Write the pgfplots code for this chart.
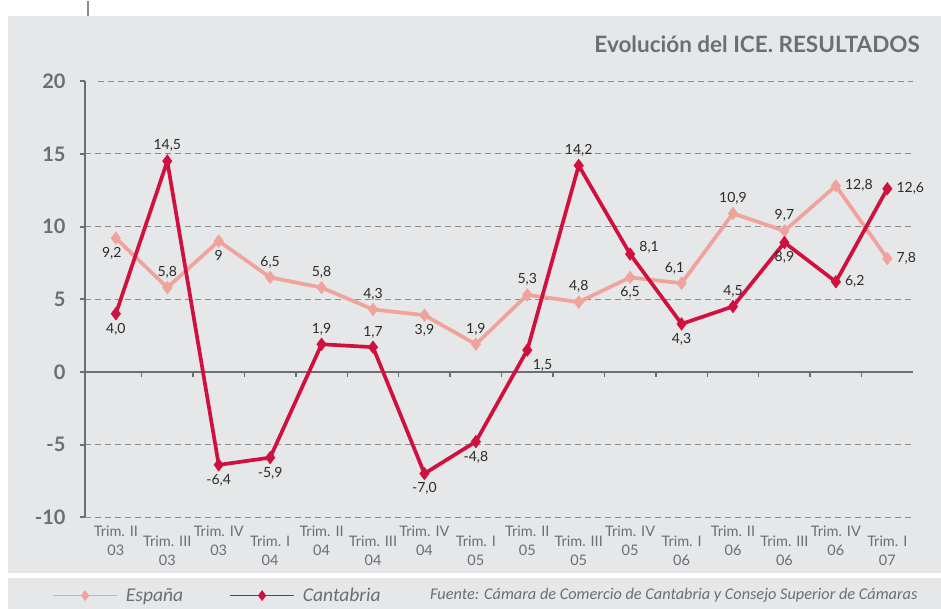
\documentclass[border=0pt]{standalone}
\usepackage{pgfplots}
\pgfplotsset{compat=1.18}
\usepackage{fontspec}
\setmainfont{Lato}
\newfontfamily\legfont{Carlito}
\definecolor{bggray}{HTML}{E6E7E8}
\definecolor{txtgray}{HTML}{6D6E71}
\definecolor{gridgray}{HTML}{8C8C8C}
\definecolor{espcol}{HTML}{EFA39B}
\definecolor{cancol}{HTML}{D0103F}
\definecolor{lblcol}{HTML}{2B2B2B}

\begin{document}
\begin{tikzpicture}[x=1pt,y=1pt]
\fill[white] (0,0) rectangle (941,608);
\fill[bggray] (8,36) rectangle (941,593);
\fill[bggray] (8,0) rectangle (941,31);
\draw[gridgray, line width=1.2pt] (88,593) -- (88,608);
\node[anchor=base east, font=\bfseries\fontsize{22.5}{26}\selectfont, text=txtgray, inner sep=0pt] at (920,556) {Evolución del ICE. RESULTADOS};
\node[anchor=base west, font=\legfont\itshape\fontsize{16.3}{19}\selectfont, text=txtgray, inner sep=0pt] at (430,9) {Fuente: Cámara de Comercio de Cantabria y Consejo Superior de Cámaras};
\begin{axis}[
  at={(85pt,91.4pt)}, anchor=south west,
  scale only axis, width=828pt, height=436pt,
  xmin=-0.6, xmax=15.5, ymin=-10, ymax=20,
  clip=false,
  axis y line*=left, axis x line*=bottom,
  x axis line style={draw=none},
  y axis line style={draw=txtgray, line width=2.5pt},
  xtick={0,...,15},
  xtick style={draw=none},
  xticklabels={
    {\rule{0pt}{14pt}Trim. II\\03},
    {\rule{0pt}{24pt}Trim. III\\03},
    {\rule{0pt}{14pt}Trim. IV\\03},
    {\rule{0pt}{24pt}Trim. I\\04},
    {\rule{0pt}{14pt}Trim. II\\04},
    {\rule{0pt}{24pt}Trim. III\\04},
    {\rule{0pt}{14pt}Trim. IV\\04},
    {\rule{0pt}{24pt}Trim. I\\05},
    {\rule{0pt}{14pt}Trim. II\\05},
    {\rule{0pt}{24pt}Trim. III\\05},
    {\rule{0pt}{14pt}Trim. IV\\05},
    {\rule{0pt}{24pt}Trim. I\\06},
    {\rule{0pt}{14pt}Trim. II\\06},
    {\rule{0pt}{24pt}Trim. III\\06},
    {\rule{0pt}{14pt}Trim. IV\\06},
    {\rule{0pt}{24pt}Trim. I\\07}},
  xticklabel style={align=center, font=\fontsize{14.5}{19.5}\selectfont, text=txtgray, inner sep=0pt},
  ytick={-10,-5,0,5,10,15,20},
  yticklabels={-10,-5,0,5,10,15,20},
  yticklabel style={font=\bfseries\fontsize{20}{24}\selectfont, text=txtgray, xshift=-11pt},
  tick align=outside,
  major tick length=5pt,
  ytick style={draw=txtgray, line width=2pt},
  ymajorgrids,
  major grid style={draw=gridgray, line width=1.2pt, dash pattern=on 6pt off 4pt, shorten <=13pt},
  legend columns=2,
  legend style={at={(-0.0435,-0.1798)}, anchor=west, draw=none, fill=none,
    font=\legfont\itshape\fontsize{19.5}{21}\selectfont, text=txtgray,
    /tikz/every odd column/.append style={column sep=6pt},
    /tikz/every even column/.append style={column sep=44pt}},
  legend image code/.code={
    \draw[mark repeat=2,mark phase=2,#1] plot coordinates {(0pt,0pt) (32pt,0pt) (64pt,0pt)};
  },
  lbl/.style={nodes near coords, point meta=explicit symbolic,
    visualization depends on={value \thisrow{anc}\as\myanchor},
    every node near coord/.append style={anchor=\myanchor, font=\fontsize{14}{16}\selectfont, text=lblcol, inner sep=9pt}},
]
\addlegendimage{espcol, line width=1.8pt, mark=diamond*, mark size=5pt, mark options={solid, fill=espcol, line width=0.5pt}}
\addlegendentry{España}
\addlegendimage{cancol, line width=1.8pt, mark=diamond*, mark size=5pt, mark options={solid, fill=cancol, line width=0.5pt}}
\addlegendentry{Cantabria}
\draw[txtgray, line width=2pt] (axis cs:-0.6,0) -- (axis cs:15.5,0);
\pgfplotsinvokeforeach{0,...,14}{
  \draw[txtgray, line width=1.5pt] (axis cs:#1.5,0) -- ++(0pt,-5pt);
}
\addplot[forget plot, espcol, line width=3.7pt, mark=diamond*, mark size=6.3pt,
  mark options={solid, fill=espcol, line width=0.5pt}, lbl]
  table[x=x,y=y,meta=lab]{
x y lab anc
0 9.2 9,2 75
1 5.8 5,8 270
2 9.0 9 90
3 6.5 6,5 270
4 5.8 5,8 270
5 4.3 4,3 270
6 3.9 3,9 90
7 1.9 1,9 270
8 5.3 5,3 270
9 4.8 4,8 270
10 6.5 6,5 90
11 6.1 6,1 295
12 10.9 10,9 270
13 9.7 9,7 270
14 12.8 12,8 180
15 7.8 7,8 180
};
\addplot[forget plot, cancol, line width=3.7pt, mark=diamond*, mark size=6.3pt,
  mark options={solid, fill=cancol, line width=0.5pt}, lbl]
  table[x=x,y=y,meta=lab]{
x y lab anc
0 4.0 4,0 90
1 14.5 14,5 270
2 -6.4 -6,4 90
3 -5.9 -5,9 90
4 1.9 1,9 270
5 1.7 1,7 270
6 -7.0 -7,0 90
7 -4.8 -4,8 90
8 1.5 1,5 135
9 14.2 14,2 270
10 8.1 8,1 200
11 3.3 4,3 90
12 4.5 4,5 270
13 8.9 8,9 90
14 6.2 6,2 180
15 12.6 12,6 180
};
\end{axis}
\end{tikzpicture}
\end{document}
